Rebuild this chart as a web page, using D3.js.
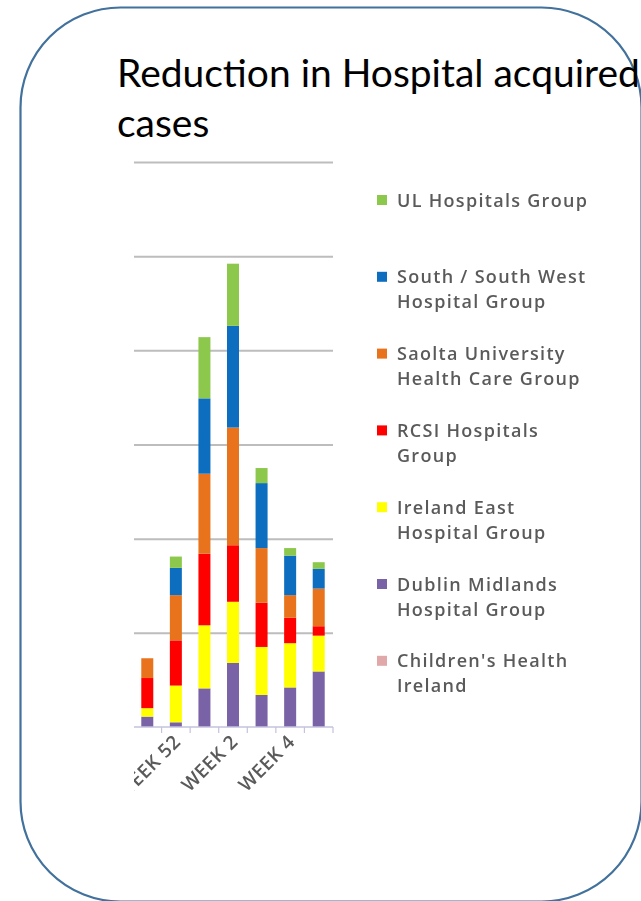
<!DOCTYPE html>
<html>
<head>
<meta charset="utf-8">
<script src="https://cdn.jsdelivr.net/npm/d3@7"></script>
<style>
  body { margin: 0; background: #fff; }
</style>
</head>
<body>
<svg id="chart" width="641" height="901"></svg>
<script>
// weeks shown in the cropped chart (first one is cut off on the left)
var weeks = ["WEEK 51", "WEEK 52", "WEEK 1", "WEEK 2", "WEEK 3", "WEEK 4", "WEEK 5"];
// only every other label is printed
var weekLabels = ["", "WEEK 52", "", "WEEK 2", "", "WEEK 4", ""];

// series, bottom of the stack first
var groups = ["Children's Health Ireland", "Dublin Midlands Hospital Group", "Ireland East Hospital Group",
  "RCSI Hospitals Group", "Saolta University Health Care Group", "South / South West Hospital Group", "UL Hospitals Group"];
var groupColors = ["#e0a8a8", "#7a62a6", "#ffff00", "#ff0000", "#e8731a", "#0a6ec0", "#8cc84b"];
// legend wording as it wraps in the picture
var legendLines = [["Children's Health", "Ireland"], ["Dublin Midlands", "Hospital Group"], ["Ireland East", "Hospital Group"],
  ["RCSI Hospitals", "Group"], ["Saolta University", "Health Care Group"], ["South / South West", "Hospital Group"], ["UL Hospitals Group"]];

var childrens      = [0, 0, 0, 0, 0, 0, 0];
var dublinMidlands = [1.1, 0.5, 4.1, 6.8, 3.4, 4.2, 5.9];
var irelandEast    = [0.9, 3.9, 6.7, 6.5, 5.1, 4.7, 3.8];
var rcsi           = [3.2, 4.8, 7.6, 6.0, 4.7, 2.7, 1.0];
var saolta         = [2.1, 4.8, 8.5, 12.5, 5.8, 2.4, 4.0];
var southWest      = [0, 2.9, 8.0, 10.8, 6.9, 4.2, 2.1];
var ul             = [0, 1.2, 6.5, 6.6, 1.6, 0.8, 0.7];
var seriesValues = [childrens, dublinMidlands, irelandEast, rcsi, saolta, southWest, ul];

var gridTicks = [10, 20, 30, 40, 50, 60];

var svg = d3.select("#chart");

// slide frame
svg.append("rect")
  .attr("x", 20.5).attr("y", 7.5)
  .attr("width", 621).attr("height", 894)
  .attr("rx", 100).attr("ry", 100)
  .attr("fill", "none")
  .attr("stroke", "#41719c")
  .attr("stroke-width", 2.2);

// title, sized so the first line runs to the right edge like the slide
var title = svg.append("g").attr("font-family", "Lato, 'Open Sans', sans-serif").attr("fill", "#000");
var t1 = title.append("text").attr("x", 117).attr("y", 87).attr("font-size", 40).text("Reduction in Hospital acquired");
var fs = 40 * 523 / t1.node().getComputedTextLength();
t1.attr("font-size", fs);
title.append("text").attr("x", 117).attr("y", 137).attr("font-size", fs).text("cases");

// chart picture (cropped on the left)
var defs = svg.append("defs");
defs.append("clipPath").attr("id", "crop")
  .append("rect").attr("x", 134).attr("y", 150).attr("width", 490).attr("height", 660);
defs.append("filter").attr("id", "soft")
  .append("feGaussianBlur").attr("stdDeviation", 0.55);

var chart = svg.append("g").attr("clip-path", "url(#crop)").attr("filter", "url(#soft)");

var x = d3.scaleBand().domain(weeks).range([133, 333]).paddingInner(0.58).paddingOuter(0.29);
var y = d3.scaleLinear().domain([0, 60]).range([727, 162]);

// gridlines
var grid = chart.append("g").attr("transform", "translate(133,0)")
  .call(d3.axisLeft(y).tickValues(gridTicks).tickSize(-200).tickFormat(""));
grid.select(".domain").remove();
grid.selectAll("line").attr("stroke", "#bdbdbd").attr("stroke-width", 2);

// stacked bars
var table = weeks.map(function (w, i) {
  var row = { week: w };
  groups.forEach(function (g, k) { row[g] = seriesValues[k][i]; });
  return row;
});
var stack = d3.stack().keys(groups)(table);

chart.append("g").selectAll("g").data(stack).enter().append("g")
  .attr("fill", function (d, k) { return groupColors[k]; })
  .selectAll("rect").data(function (d) { return d; }).enter().append("rect")
  .attr("x", function (d) { return x(d.data.week); })
  .attr("width", x.bandwidth())
  .attr("y", function (d) { return y(d[1]); })
  .attr("height", function (d) { return y(d[0]) - y(d[1]); });

// category axis: line with ticks between the bars
var xAxis = chart.append("g").attr("transform", "translate(0,727)");
xAxis.append("line").attr("x1", 133).attr("x2", 333).attr("stroke", "#c4c2dc").attr("stroke-width", 1.5);
xAxis.selectAll("line.tick").data(d3.range(weeks.length + 1)).enter().append("line")
  .attr("class", "tick")
  .attr("x1", function (i) { return 133 + i * x.step(); })
  .attr("x2", function (i) { return 133 + i * x.step(); })
  .attr("y1", 0).attr("y2", 6)
  .attr("stroke", "#c4c2dc").attr("stroke-width", 1.2);

xAxis.selectAll("text").data(weeks).enter().append("text")
  .attr("transform", function (w) { return "translate(" + (x(w) + x.bandwidth() / 2 + 6) + ",16) rotate(-45)"; })
  .attr("text-anchor", "end")
  .attr("font-family", "'Open Sans', sans-serif")
  .attr("font-size", 19)
  .attr("font-weight", 600)
  .attr("letter-spacing", 0.5)
  .attr("fill", "#5a5a5a")
  .text(function (w, i) { return weekLabels[i]; });

// legend, top item is the top of the stack
var legend = chart.append("g").attr("font-family", "'Open Sans', sans-serif")
  .attr("font-size", 18).attr("font-weight", 600).attr("fill", "#5a5a5a")
  .attr("letter-spacing", 1.3);
var order = d3.range(groups.length).reverse();
var items = legend.selectAll("g").data(order).enter().append("g")
  .attr("transform", function (k, j) { return "translate(377," + (200 + j * 76.8) + ")"; });
items.append("rect").attr("x", 0).attr("y", -5).attr("width", 10).attr("height", 10)
  .attr("fill", function (k) { return groupColors[k]; });
items.each(function (k) {
  var g = d3.select(this);
  legendLines[k].forEach(function (line, n) {
    g.append("text").attr("x", 20).attr("y", 6.5 + n * 25).text(line);
  });
});
</script>
</body>
</html>
